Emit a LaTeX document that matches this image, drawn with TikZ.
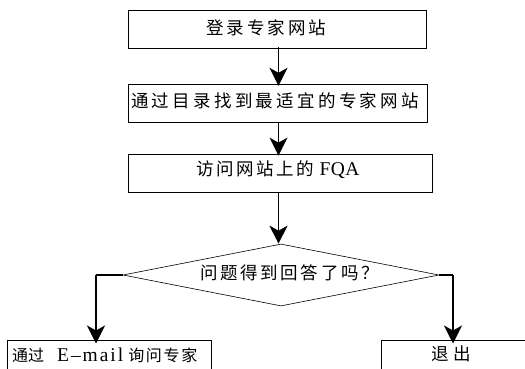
\documentclass[tikz,border=0pt]{standalone}
\usepackage{fontspec}
\setmainfont{Liberation Serif}
\newfontfamily\cjk{Noto Sans CJK SC}
\usetikzlibrary{arrows.meta,shapes.geometric}
\makeatletter
\newcommand\spc[2]{\def\spc@sep{}\@tfor\spc@c:=#2\do{\spc@sep\spc@c\def\spc@sep{\hspace{#1}}}}
\makeatother
\newcommand\spread[2]{\makebox[#1]{\spc{\fill}{#2}}}
\newcommand{\lat}[2]{{\fontsize{19.5pt}{20pt}\selectfont\addfontfeature{LetterSpace=#1}#2}}
\tikzset{
  box/.style={draw=black,line width=0.9pt,inner sep=0pt},
  lbl/.style={inner sep=0pt,font=\fontsize{17.5pt}{20pt}\selectfont},
  arr/.style={line width=1.7pt,-{Stealth[length=18pt,width=18pt,inset=5pt]}},
  seg/.style={line width=1.7pt}
}
\begin{document}
\begin{tikzpicture}[x=1pt,y=-1pt]
\useasboundingbox (0,0) rectangle (525,369);
\begin{scope}
\clip (0,0) rectangle (525,369);
\node[box,minimum width=298.4pt,minimum height=38.3pt] (b1) at (277.5,29.2) {};
\node[box,minimum width=299.4pt,minimum height=38pt] (b2) at (278,103.3) {};
\node[box,minimum width=304pt,minimum height=38.6pt] (b3) at (280.3,173.4) {};
\node[draw=black,line width=0.6pt,diamond,aspect=5,minimum width=316pt,minimum height=62pt,inner sep=0pt] (d) at (281,275) {};
\node[box,minimum width=204pt,minimum height=40pt,anchor=north west] (b4) at (7,339.5) {};
\node[box,minimum width=150pt,minimum height=40pt,anchor=north west] (b5) at (380.5,339.5) {};
\end{scope}
\node[lbl] (t1) at (266.5,28) {\cjk\spread{120pt}{登录专家网站}};
\node[lbl] (t2) at (275,100.5) {\cjk\spread{288pt}{通过目录找到最适宜的专家网站}};
\node[lbl,anchor=west] (t3) at (196.5,170) {{\cjk\spread{117pt}{访问网站上的}}\hspace{6pt}\lat{2}{FQA}};
\node[lbl] (t4) at (289.5,272.5) {\cjk\spread{179pt}{问题得到回答了吗？}};
\node[lbl,anchor=west,font=\fontsize{16pt}{20pt}\selectfont] (t5) at (12,355.5) {{\cjk 通过}\hspace{13pt}\lat{10}{E–mail}\hspace{5pt}{\cjk\spread{69pt}{询问专家}}};
\node[lbl] (t6) at (451,354) {\cjk\spread{40pt}{退出}};
\coordinate (ax) at (278.5,0);
\coordinate (lx) at (96,0);
\coordinate (rx) at (453,0);
\draw[arr] ([yshift=2pt]b1.south -| ax) -- ([yshift=-2pt]b2.north -| ax);
\draw[arr] (b2.south -| ax) -- ([yshift=-2pt]b3.north -| ax);
\draw[arr] (b3.south -| ax) -- (d.north -| ax);
\draw[seg] (d.west) -- (d.west -| lx);
\draw[arr] (d.west -| lx) -- ([yshift=-4pt]b4.north -| lx);
\draw[seg] (d.east) -- (d.east -| rx);
\draw[arr] (d.east -| rx) -- ([yshift=-4pt]b5.north -| rx);
\end{tikzpicture}
\end{document}
